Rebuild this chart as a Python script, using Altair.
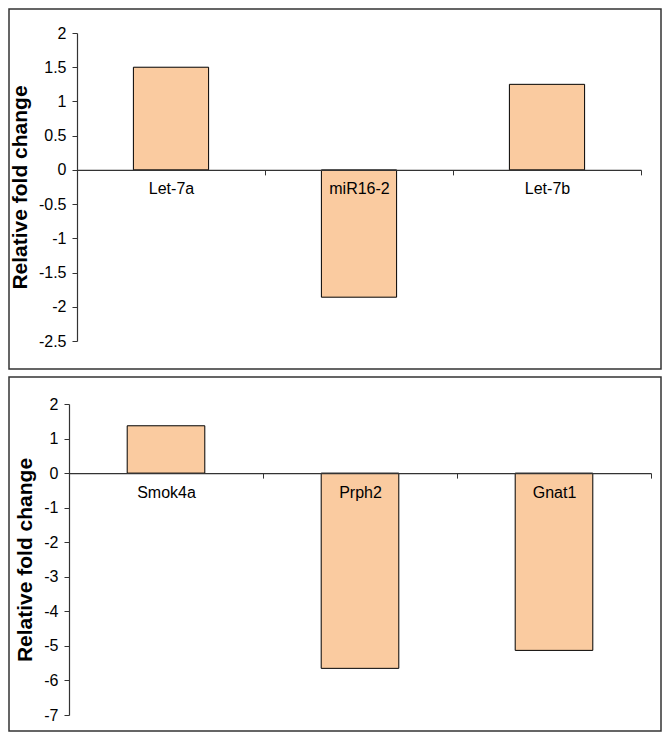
import altair as alt
import pandas as pd

# ---- data ----
top_genes = ["Let-7a", "miR16-2", "Let-7b"]
top_values = [1.5, -1.86, 1.25]
top_ticks = [-2.5, -2, -1.5, -1, -0.5, 0, 0.5, 1, 1.5, 2]

bottom_genes = ["Smok4a", "Prph2", "Gnat1"]
bottom_values = [1.37, -5.65, -5.13]
bottom_ticks = [-7, -6, -5, -4, -3, -2, -1, 0, 1, 2]

y_title = "Relative fold change"

# ---- styling ----
BAR = "#FACBA0"
LINE = "#333333"
FONT = "Liberation Sans"
W = 652


def panel(genes, values, ticks, height, xr, yr):
    df = pd.DataFrame({"gene": genes, "value": values})
    ymin, ymax = min(ticks), max(ticks)
    zero_px = yr[1] + (ymax - 0) / (ymax - ymin) * (yr[0] - yr[1])
    return (
        alt.Chart(df)
        .mark_bar(color=BAR, stroke="black", strokeWidth=1, width={"band": 0.4})
        .encode(
            x=alt.X(
                "gene:N",
                sort=genes,
                scale=alt.Scale(range=xr, paddingInner=0, paddingOuter=0),
                axis=alt.Axis(
                    title=None,
                    orient="bottom",
                    offset=-(height - zero_px),
                    labelAngle=0,
                    tickBand="extent",
                    ticks=True,
                    tickSize=5,
                    labelPadding=6,
                    domainColor=LINE,
                    tickColor=LINE,
                    domainWidth=1.2,
                    labelColor="black",
                    labelFontSize=16,
                    labelFont=FONT,
                    zindex=1,
                ),
            ),
            y=alt.Y(
                "value:Q",
                scale=alt.Scale(domain=[ymin, ymax], range=yr, nice=False),
                axis=alt.Axis(
                    title=y_title,
                    values=ticks,
                    labelExpr="'' + datum.value",
                    offset=-xr[0],
                    grid=False,
                    tickSize=5,
                    labelPadding=6,
                    domainColor=LINE,
                    tickColor=LINE,
                    domainWidth=1.2,
                    labelColor="black",
                    labelFontSize=16,
                    labelFont=FONT,
                    titleFont=FONT,
                    titleFontSize=21,
                    titleFontWeight="bold",
                    titleColor="black",
                    titlePadding=8,
                    zindex=1,
                ),
            ),
            y2=alt.datum(0),
        )
        .properties(width=W, height=height)
    )


top = panel(top_genes, top_values, top_ticks, 360, [68, 632], [332, 24])
bottom = panel(bottom_genes, bottom_values, bottom_ticks, 354, [60, 642], [338, 27])

chart = (
    alt.vconcat(top, bottom, spacing=6)
    .properties(padding=0, background="white")
    .configure_view(stroke=LINE, strokeWidth=1.5)
)

chart.save("out.html", embed_options={"renderer": "svg", "actions": False})
